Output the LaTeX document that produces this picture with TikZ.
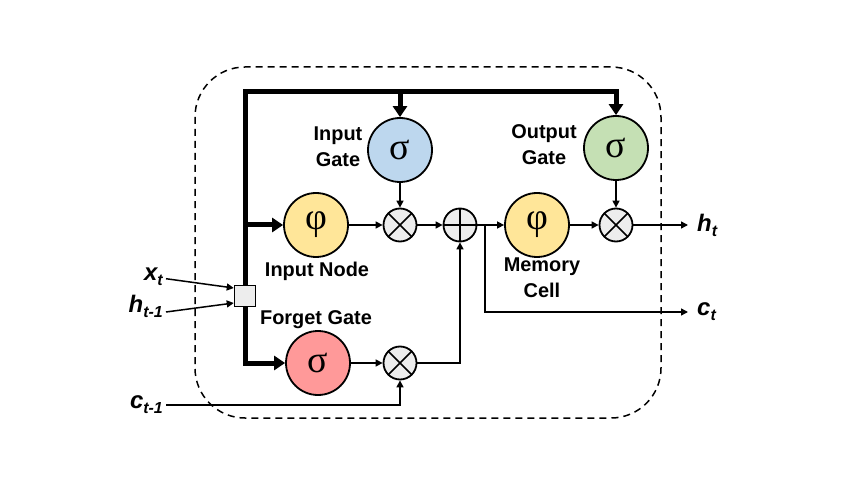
\documentclass[tikz,border=0pt]{standalone}
\usepackage{fontspec}
\setmainfont{Liberation Sans}
\newfontfamily\greekfont{Liberation Serif}
\usetikzlibrary{arrows.meta}
\definecolor{igblue}{HTML}{BDD7EE}
\definecolor{inyellow}{HTML}{FFE699}
\definecolor{fgred}{HTML}{FF9999}
\definecolor{oggreen}{HTML}{C5E0B4}
\definecolor{opgray}{HTML}{EDEDED}
\newcommand{\subs}[1]{\raisebox{-5bp}{\fontsize{16}{16}\selectfont #1}}

\begin{document}
\begin{tikzpicture}[x=1bp,y=-1bp,
  gate/.style={draw,circle,line width=1.8bp,minimum size=64bp,inner sep=0pt,
    font={\greekfont\fontsize{38}{38}\selectfont}},
  mult/.style={draw,circle,line width=1.8bp,minimum size=33bp,inner sep=0pt,fill=opgray,
    path picture={\draw[line width=1.5bp]
      (path picture bounding box.north west) -- (path picture bounding box.south east)
      (path picture bounding box.north east) -- (path picture bounding box.south west);}},
  addn/.style={draw,circle,line width=1.8bp,minimum size=33bp,inner sep=0pt,fill=opgray,
    path picture={\draw[line width=1.5bp]
      (path picture bounding box.north) -- (path picture bounding box.south)
      (path picture bounding box.west) -- (path picture bounding box.east);}},
  wire/.style={line width=1.5bp,-{Triangle[length=7bp,width=7bp]}},
  bus/.style={line width=5bp,line join=miter,-{Triangle[length=11bp,width=14bp]}},
  lbl/.style={font=\fontsize{20}{26}\selectfont\bfseries,align=center,inner sep=0pt},
  var/.style={font=\fontsize{24}{24}\selectfont\bfseries\itshape,inner sep=3bp}]
\useasboundingbox (0,0) rectangle (850,478);

\draw[line width=1.5bp,dash pattern=on 7bp off 5bp,rounded corners=50bp] (195,67) rectangle (661,418);

% gates and nodes
\node[gate,fill=igblue] (ig) at (400,150) {σ};
\node[gate,fill=inyellow] (in) at (316,225) {φ};
\node[gate,fill=fgred] (fg) at (318,363) {σ};
\node[gate,fill=oggreen] (og) at (616,148) {σ};
\node[gate,fill=inyellow] (mc) at (537,225) {φ};

\node[mult] (m1) at (400,225) {};
\node[mult] (m2) at (400,363) {};
\node[mult] (m3) at (616,225) {};
\node[addn] (add) at (460,225) {};
\node[draw,fill=opgray,minimum size=21bp,inner sep=0pt,line width=1.5bp] (sq) at (245,296) {};

\node[lbl] (igl) at (338,147) {Input\\Gate};
\node[lbl] (ogl) at (544,145) {Output\\Gate};
\node[lbl] (inl) at (317,271) {Input Node};
\node[lbl] (fgl) at (316,320) {Forget Gate};
\node[lbl] (mcl) at (542,278) {Memory\\Cell};

\node[var,anchor=east] (xt) at (166,277) {x\subs{t}};
\node[var,anchor=east] (ht1) at (166,306) {h\subs{t-1}};
\node[var,anchor=east] (ct1) at (166,405) {c\subs{t-1}};
\node[var,anchor=west,inner xsep=9bp] (ht) at (688,225) {h\subs{t}};
\node[var,anchor=west,inner xsep=9bp] (ct) at (688,312) {c\subs{t}};

\coordinate (top) at (245,92);
\coordinate (br) at (485,225);

\draw[bus] (sq.north) -- (top) -| (og.north);
\draw[bus] (top) -| (ig.north);
\draw[bus] (sq.north) |- (in.west);
\draw[bus] (sq.south) |- (fg.west);

\draw[wire] (xt) -- ([yshift=8bp]sq.west);
\draw[wire] ([yshift=-6bp]ht1.east) -- ([yshift=-7bp]sq.west);
\draw[wire] (ct1) -| (m2);
\draw[wire] (in) -- (m1);
\draw[wire] (ig) -- (m1);
\draw[wire] (m1) -- (add);
\draw[wire] (fg) -- (m2);
\draw[wire] (m2) -| (add);
\draw[wire] (add) -- (mc);
\draw[wire] (mc) -- (m3);
\draw[wire] (og) -- (m3);
\draw[wire] (m3) -- (m3 -| ht.west);
\draw[wire] (br) |- (ct);
\end{tikzpicture}
\end{document}
